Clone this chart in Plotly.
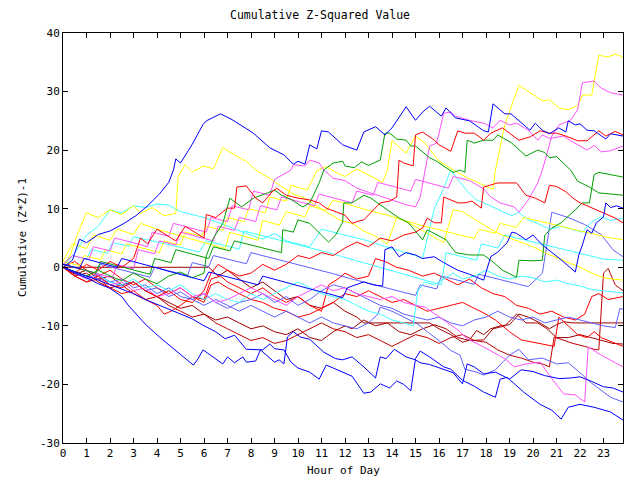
import plotly.graph_objects as go

# Each series: list of (hour, cumulative value) vertices
blue_top = [(0,0),(0.4,1.2),(0.7,4.8),(1.0,4.2),(1.5,5.6),(2.0,6.2),(2.6,7.5),(3.1,8.8),(3.6,10.5),(4.1,12.5),(4.5,14.5),(4.7,16.6),(4.8,18.5),(5.0,17.8),(5.5,21),(5.96,24.4),(6.1,25),(6.7,26.2),(7.2,25.2),(8.1,22.9),(8.8,20.4),(9.4,19.2),(9.8,17.6),(10.0,18.1),(10.3,17.6),(10.5,20.9),(10.8,20.2),(11.0,23.3),(11.3,23.1),(11.9,20.9),(12.5,20.0),(12.8,23.1),(13.3,24.0),(13.7,22.6),(14.0,23.8),(14.6,27.4),(15.0,25.1),(15.3,26.5),(15.6,27.5),(16.1,25.8),(16.3,27.2),(16.7,25.5),(17.3,25.0),(17.9,23.3),(18.1,23.1),(18.3,27.9),(18.8,26.2),(19.06,26.2),(19.87,23.4),(20.1,24.6),(20.4,23.4),(20.7,22.8),(21.1,23.8),(21.4,23.1),(21.5,25),(21.8,24.3),(22.0,24.5),(22.3,23.4),(22.6,23.3),(23.1,21.9),(23.3,22.8),(23.83,22.4)]
yellow_top = [(0,1),(0.7,0.3),(0.9,2),(1.6,1.3),(1.8,3),(2.5,2.3),(2.7,4),(3.4,3.3),(4.1,2.5),(4.3,4.5),(5,3.8),(5.2,6),(5.9,5.3),(6.1,7),(6.8,6.3),(7,8.5),(7.7,7.8),(7.9,10),(8.6,9.3),(8.8,12),(9.5,11.3),(9.7,14),(10.4,13.2),(10.8,16.5),(11.2,17.2),(11.7,16),(12,15.5),(12.5,16.8),(13,15.8),(13.6,14.5),(13.8,16.6),(14.0,21.6),(14.6,19.5),(15.0,22.4),(15.4,21.2),(16.0,18.1),(16.7,16.4),(17.2,15.3),(17.8,14.2),(18.3,13.3),(18.4,16.6),(18.8,24.3),(19.4,31.1),(20.4,28.4),(20.7,28.6),(21.1,27.2),(21.5,26.9),(21.9,27.6),(22.1,29.4),(22.5,29.4),(22.8,36.2),(23.2,35.9),(23.5,36.4),(23.83,35.9)]
yellow_a = [(0,0),(0.3,2),(0.6,5.5),(1.0,9.3),(1.5,8.5),(2.0,9.8),(2.5,9),(3.0,10.5),(3.3,9.2),(3.8,10.2),(4.3,8.8),(4.8,9.2),(4.9,15.5),(5.2,17.5),(5.5,16.3),(6.0,17.3),(6.4,16.8),(6.8,20.4),(7.3,19.2),(7.8,18.1),(8.2,16.6),(8.8,15.2),(9.3,13.8),(9.8,12.5),(10.3,11.8),(10.8,10.4),(11.3,9.2),(11.8,8),(12.3,7.5),(12.8,6.2),(13.3,5.3),(13.8,4),(14.2,8.5),(14.6,7.8),(15.2,6.5),(15.7,5.3),(16.2,4.2),(16.6,9.8),(17.0,9.5),(17.5,8.2),(18.0,7),(18.5,5.8),(19.0,5),(19.5,4.3),(20.0,3.5),(20.5,2.5),(21.0,1.7),(21.5,0.8),(22,0),(22.5,-1),(23,-1.8),(23.83,-2.2)]
yellow_b = [(0,1),(0.4,4),(1,3.2),(1.3,5.5),(2,4.6),(2.3,6.5),(3,5.6),(3.3,7.5),(4,6.5),(4.8,5.6),(5.5,4.8),(6.2,4),(6.9,3.2),(7.1,6),(7.8,5.2),(8.3,4.6),(8.5,8),(9.2,7.2),(9.5,9.5),(10.3,8.6),(10.5,10.5),(11.2,9.7),(11.5,11.5),(12.3,10.5),(13,9.7),(13.8,8.9),(14.5,8),(15.2,7.2),(16,6.4),(16.8,5.6),(17.5,4.9),(17.7,6.5),(18.4,5.8),(18.6,7.5),(19.3,6.8),(19.6,8.5),(20.4,7.8),(21.1,7.1),(21.8,6.4),(22.5,5.7),(23.2,5.1),(23.83,4.7)]
magenta_1 = [(0,0.5),(0.7,-0.3),(1.4,-1),(2.1,-1.8),(2.3,0.5),(3,-0.3),(3.2,3),(3.9,2.3),(4.1,4.5),(4.8,3.8),(5,6),(5.7,5.3),(6.4,4.5),(6.6,7),(7.3,6.3),(7.5,8.5),(8.2,7.8),(8.4,10.5),(9.1,9.8),(9.3,12),(10,11.3),(10.7,10.5),(10.9,12.5),(11.6,11.8),(12.3,11),(12.5,13),(13.2,12.3),(13.4,14.5),(14.1,13.8),(14.8,13),(15,15),(15.7,14.3),(16.4,13.5),(16.6,15.5),(17.3,14.8),(17.9,13.4),(18.2,12),(18.6,11),(19.2,10.3),(19.4,9.4),(19.8,11.5),(20.2,14.4),(20.4,16.6),(20.8,22.4),(21.1,24.3),(21.6,25.1),(21.9,26.9),(22.1,31.5),(22.6,31.8),(22.9,30.6),(23.3,29.8),(23.83,29.4)]
magenta_2 = [(0,0.5),(0.4,2),(1.1,1.3),(1.3,3.5),(2,2.8),(2.2,5),(2.9,4.3),(3.6,3.5),(3.8,6),(4.5,5.3),(4.7,7.5),(5.4,6.8),(6.1,6),(6.3,8.5),(7,7.8),(7.2,10.5),(7.9,9.8),(8.1,13),(8.8,12.3),(9,15),(9.7,16.6),(9.8,17.5),(10.3,17.3),(10.5,18.3),(10.9,17.8),(11.1,16.6),(11.5,15.2),(12,14.8),(12.5,13.5),(13,12.8),(13.5,12.2),(14,11.5),(14.5,10.8),(15.0,10.3),(15.2,12),(15.4,16.6),(15.6,20.7),(15.9,21.2),(16.2,26.3),(16.5,26.5),(16.7,25.8),(17.3,25.1),(17.9,24.6),(18.3,23.8),(18.6,25.1),(19.0,24.3),(19.3,24.6),(19.8,23.4),(20.2,21.7),(20.4,22.6),(20.7,22.0),(21.3,22.4),(21.6,21.6),(22.0,20.7),(22.3,20),(22.6,20.8),(22.9,19.7),(23.3,19.9),(23.83,20.7)]
magenta_3 = [(0,0),(0.5,-1),(1,-2),(1.5,-1.5),(2,-3),(2.5,-2.5),(3,-4),(3.5,-3.5),(4,-5),(4.5,-4.5),(5,-3.5),(5.5,-5),(6,-4.5),(6.5,-6),(7,-5.5),(7.5,-4.5),(8,-3.5),(8.5,-4.5),(9,-5.5),(9.5,-6.5),(10,-5),(10.5,-4),(11,-3),(11.5,-4),(12,-3.5),(12.5,-4.5),(13,-5),(13.5,-5.5),(14,-5),(14.5,-6),(15,-6.5),(15.4,-6.8),(16.2,-9),(16.8,-10.7),(17.2,-12.2),(17.9,-13.6),(18.8,-15.6),(19.2,-17),(19.7,-16.5),(20.3,-16.2),(20.8,-19),(21.3,-21.6),(21.8,-21.8),(22.2,-23),(22.35,-13.6),(22.9,-15),(23.83,-17)]
green_1 = [(0,0.5),(0.7,-0.3),(1.4,-1),(1.6,1),(2.3,0.3),(3,-0.5),(3.7,-1.2),(3.9,1.5),(4.6,0.8),(4.8,3),(5.5,2.3),(6.2,1.5),(6.4,3.5),(7.1,2.8),(7.3,4.5),(8,3.8),(8.7,3),(9.3,2.5),(9.35,6.4),(9.8,6),(10,8.1),(10.5,7.5),(11,5.5),(11.3,4.3),(11.6,5.5),(11.9,7.7),(11.95,11),(12.3,11),(12.8,12.3),(13.1,11.8),(13.7,10.1),(14.3,8.4),(14.7,7.6),(15.0,6.1),(15.3,4.7),(15.5,6.4),(15.9,5.5),(16.3,4.7),(16.7,2.5),(17.3,2.1),(17.9,2.1),(18.3,0.9),(18.7,-0.5),(19.3,-1.7),(19.4,1.2),(20.0,1.1),(20.4,1.2),(20.5,5.5),(20.8,6.7),(21.2,7.6),(21.8,9.8),(22.1,11),(22.4,11),(22.6,15.8),(22.8,16.2),(23.3,15.8),(23.83,15.4)]
green_2 = [(0,0),(0.5,-0.8),(1,-1.5),(1.5,-0.5),(2,-1.5),(2.5,-2.3),(3,-1),(3.5,-2),(4,-2.8),(4.5,-1.5),(5,-0.8),(5.5,-1.8),(6,-1),(6.1,2),(6.4,5),(6.8,7.5),(7.1,11.8),(7.6,10.3),(8.1,11.8),(8.7,12.7),(9.0,13.2),(9.3,12.3),(9.7,11.6),(10.2,10.3),(10.5,11),(10.9,14.4),(11.0,15.4),(11.1,16.6),(11.5,17.8),(11.9,18.1),(12.0,17.3),(12.4,17),(12.7,18),(13.0,17.4),(13.5,18.3),(13.7,22.9),(13.9,22.9),(14.2,21.9),(14.6,21.7),(14.8,20.7),(15.0,20.7),(15.2,20),(15.6,18.7),(15.9,18.1),(16.2,17.3),(16.6,16.2),(16.9,16.6),(17.1,16.2),(17.2,21.7),(17.5,21.2),(17.9,21.7),(18.3,21.7),(18.5,22.6),(19.1,21.2),(19.7,19),(20.2,20),(20.5,19.6),(20.7,18.7),(21.0,18.9),(21.6,16.6),(21.9,14.7),(22.4,13.7),(22.8,12.7),(23.83,12.3)]
red_1 = [(0,0),(0.5,-1),(1,0.5),(1.5,-0.5),(2,1),(2.5,0),(3,1.5),(3.3,5),(3.6,4),(4,6.5),(4.4,5.5),(4.8,4.5),(5.2,7),(5.6,6),(6.0,5),(6.1,9),(6.5,8.5),(7.0,10.1),(7.3,10.1),(7.4,13.7),(7.8,13.9),(8.2,11.8),(8.5,11),(8.9,12.9),(9.1,13.5),(9.5,12.3),(10.0,11.8),(10.5,11.5),(10.9,11),(11.2,10.1),(11.6,9.5),(12.0,8.9),(12.3,7.5),(12.5,7.8),(12.8,8.1),(13.0,8.9),(13.5,11),(13.9,11.3),(14.2,12),(14.3,18.3),(14.5,17.8),(14.9,17.3),(15.0,22.6),(15.3,23.1),(15.5,22.5),(15.8,21.7),(16.0,20.9),(16.5,19.8),(16.8,23.3),(17.1,22.9),(17.5,22.9),(17.9,21.7),(18.2,22.9),(18.7,23.8),(19.0,22.9),(19.4,21.7),(19.9,22.3),(20.3,23.3),(20.7,22.9),(21.0,22.9),(21.4,22.4),(21.9,21.6),(22.3,21.6),(22.8,23.3),(23.1,22.4),(23.5,23.2),(23.83,22.6)]
red_2 = [(0,0),(0.5,-1.5),(1,-2.5),(1.5,-1.5),(2,-3),(2.5,-3.5),(3,-2.5),(3.5,-4),(4,-5),(4.5,-4),(5,-5.5),(5.5,-6),(6,-4),(6.3,-1),(6.6,0.5),(7,-0.5),(7.5,-1.5),(8,-1),(8.5,0.5),(9,-0.5),(9.5,0.5),(10,2),(10.5,1.5),(11,2.5),(11.5,2),(12,3.3),(12.5,4.3),(13,3.5),(13.5,5),(14,4.5),(14.5,5.5),(15,6),(15.3,6.7),(15.5,8.4),(15.8,7.6),(16.1,7.6),(16.2,12),(16.5,11.5),(16.8,11),(17.1,11),(17.4,11.3),(17.8,10.1),(17.9,13.7),(18.5,14.4),(19.3,14.4),(19.7,12.3),(20.1,11.8),(20.5,11),(20.7,14),(21.0,13.8),(21.4,12.9),(21.7,11.8),(22.0,11),(22.3,10.5),(22.7,9.8),(23.2,8.9),(23.5,8.4),(23.83,7.6)]
red_3 = [(0,0),(0.5,-1.5),(1,-2.5),(1.5,-2),(2,-3.5),(2.5,-4.5),(3,-4),(3.5,-5.5),(4,-6.5),(4.3,-8),(4.6,-7.5),(5,-6.5),(5.5,-5),(6,-6),(6.3,-3),(6.6,-2.5),(7,-3.5),(7.5,-4.5),(8,-5.5),(8.5,-6),(9,-7),(9.5,-7.5),(10,-8.5),(10.5,-8),(11,-7),(11.5,-6),(12,-4.5),(12.5,-5),(13,-4),(13.5,-5),(14,-6),(14.5,-5.5),(15,-6.5),(15.5,-7.5),(16,-7),(16.5,-6.5),(17,-6),(17.5,-7),(18,-8),(18.4,-9),(19,-11),(19.5,-12.4),(20,-12.8),(20.5,-13.3),(20.9,-13.5),(21.1,-8.5),(21.5,-10),(21.9,-11.5),(22.3,-12),(22.6,-11),(22.9,-12),(23.2,-12.5),(23.5,-13),(23.83,-13.5)]
red_4 = [(0,0),(0.5,1),(1,-0.5),(1.5,-1.5),(2,-0.5),(2.5,-2),(3,-3),(3.5,-2),(4,-3.5),(4.5,-4.5),(5,-3.5),(5.5,-5),(6,-5.5),(6.3,-2),(6.7,-1.5),(7,-2.5),(7.5,-3.5),(8,-4.5),(8.5,-3.5),(9,-5),(9.5,-6),(10,-5),(10.5,-6.5),(11,-7.5),(11.3,-3),(11.7,-2),(12,-1),(12.5,-2),(13,-1.5),(13.3,1.5),(13.7,1),(14.2,0),(14.7,-0.5),(15.3,-1.5),(15.8,-1),(16.3,-2),(16.8,-3),(17.3,-2),(17.8,-3.5),(18.3,-4.5),(18.8,-5),(19.3,-6.5),(19.8,-7),(20.3,-8),(20.8,-7.5),(21.3,-8.5),(21.8,-9),(22.2,-8),(22.5,-5),(22.8,-4.5),(23.2,-5.5),(23.83,-5)]
darkred_1 = [(0,0),(6.2,0),(6.6,-1.5),(7,-0.5),(7.5,-2),(8,-3.5),(8.5,-2.5),(9,-4),(9.5,-5.5),(10,-5),(10.5,-6.5),(11,-7),(11.5,-6),(12,-7.5),(12.5,-8.5),(12.8,-9.5),(15.6,-9.5),(16,-10.5),(16.5,-11.5),(17,-12.8),(17.3,-12.4),(17.6,-10.8),(17.9,-11.5),(18.2,-10.5),(18.6,-10),(19.0,-9.8),(19.4,-8),(19.8,-8.5),(20.3,-9.5),(20.7,-10.5),(21.0,-9.8),(21.3,-9.3),(21.7,-9.5),(22.0,-9.5),(23.83,-9.5)]
darkred_2 = [(0,0),(0.5,-1.2),(1,-0.5),(1.5,-2),(2,-1.5),(2.5,-3),(3,-2.5),(3.5,-4),(4,-5),(4.5,-6),(5,-7),(5.5,-6.5),(6,-8),(6.5,-9),(7,-8.5),(7.5,-9.5),(8,-10.5),(8.5,-10),(9,-11),(9.5,-11.5),(10,-10.5),(10.5,-12),(11,-12.5),(11.5,-11),(12,-10),(12.3,-10.5),(12.8,-9),(13.3,-10),(13.8,-9.5),(14.3,-11),(14.8,-11.5),(15.3,-10.5),(15.8,-9.8),(16.3,-10.5),(16.8,-12),(17.3,-12.5),(17.9,-12.4),(18.3,-10.5),(18.8,-10),(19.3,-8),(19.7,-9.5),(20.2,-9.5),(20.6,-10.5),(21,-12),(21.5,-12),(22,-11.5),(22.5,-12),(23,-12.5),(23.4,-13),(23.83,-13.1)]
darkred_3 = [(0,0),(0.5,-1.5),(1,-1),(1.5,-2.5),(2,-3.5),(2.5,-3),(3,-4.5),(3.5,-5.5),(4,-5),(4.5,-6.5),(5,-7.5),(5.5,-8.5),(6,-8),(6.5,-9.5),(7,-10.5),(7.5,-11.5),(8,-12.5),(8.5,-12),(9,-13),(9.5,-12.5),(10,-11.5),(10.5,-10.5),(11,-9.5),(11.5,-10.5),(12,-11),(12.5,-12),(13,-11.5),(13.5,-12.5),(14,-13.5),(14.5,-12.5),(15,-11.5),(15.5,-12),(16,-13),(16.5,-12),(17,-11.5),(17.5,-12.5),(18,-12.8),(18.5,-14.1),(19,-15),(19.5,-15.5),(20,-16.2),(20.4,-16.5),(20.7,-17),(20.9,-11.9),(21.3,-12.5),(21.7,-13),(22.2,-13.5),(22.6,-14),(22.8,-14.1),(23.0,-1),(23.2,-0.2),(23.5,-3),(23.83,-4)]
cyan_1 = [(0,0),(0.5,2.5),(1,5.5),(1.5,7),(2,9.8),(2.5,9.3),(3,10.5),(3.5,10.2),(4,10.8),(4.5,10.6),(5,9.5),(5.5,9),(6,8.5),(6.5,7.8),(7,7),(7.5,6.3),(8,5.5),(8.5,4.8),(9,5.8),(9.5,4.5),(10,4),(10.5,3.5),(11,6.5),(11.5,6),(12,5.5),(12.5,5),(13,4.5),(13.5,3.8),(14,3.2),(14.5,2.5),(15,2),(15.3,1.5),(15.5,5),(15.8,10),(16.2,13.5),(16.5,16.6),(16.8,15),(17.2,13),(17.6,11.5),(17.9,11),(18.3,10.3),(18.7,9.5),(19.1,8.8),(19.4,9.4),(19.8,8.1),(20.2,7.5),(20.7,6.5),(21.2,7),(21.6,6.5),(22.1,6),(22.5,7.8),(22.9,8.6),(23.3,8),(23.83,8.4)]
cyan_2 = [(0,0.5),(0.4,2),(1,1.4),(1.2,3),(1.9,2.4),(2.1,4.2),(2.8,3.6),(3.0,5.2),(3.7,4.6),(4.4,4),(5.1,3.3),(5.8,2.6),(6.1,4.5),(6.8,3.8),(7.5,3.1),(7.7,6.2),(8.4,5.5),(9.1,4.8),(9.8,4),(10.5,3.3),(11.2,2.6),(11.9,1.8),(12.6,1),(13.3,0.2),(14,-0.6),(14.7,-1.4),(15.4,-2.2),(16.1,-3),(16.3,2.5),(17,1.8),(17.6,1.2),(17.8,4),(18.5,3.3),(18.8,5.5),(19.5,4.8),(20.2,4.1),(20.9,3.4),(21.6,2.7),(22.3,2),(23,1.4),(23.83,1.2)]
cyan_3 = [(0,0),(0.5,-1),(1,-2),(1.5,-1.5),(2,-2.5),(2.5,-3),(3,-2),(3.5,-3.5),(4,-3),(4.5,-4),(5,-3),(5.5,-4.5),(6,-5.5),(6.5,-4.5),(7,-5.5),(7.5,-6),(8,-4.5),(8.5,-5.5),(9,-4.5),(9.5,-3.5),(10,-2.5),(10.5,-3.5),(11,-4.5),(11.5,-5),(12,-5.5),(12.5,-6.5),(13,-7.5),(13.5,-8),(14,-9),(14.5,-9.5),(14.9,-10),(15.1,-4),(15.4,-2.5),(15.8,-3),(16.2,-2),(16.6,-1),(17,-2),(17.5,-1.5),(18,-0.5),(18.5,-1.5),(19,-2),(19.5,-1.5),(20,-1.8),(20.5,-2.5),(21,-2.2),(21.5,-2.8),(22,-3.2),(22.5,-3.8),(23,-4),(23.83,-4.4)]
slate_1 = [(0,0.5),(0.7,-0.3),(1.4,-1),(1.6,0.5),(2.3,-0.2),(3,-1),(3.7,-1.7),(3.9,0),(4.6,-0.7),(5.3,-1.4),(5.5,0.8),(6.2,0.1),(6.4,2),(7.1,1.3),(7.8,0.6),(8,2.5),(8.7,1.8),(9.4,1.1),(10.1,0.4),(10.8,-0.4),(11.5,-1.1),(12.2,-1.9),(12.9,-2.6),(13.6,-3.4),(14.3,-4.1),(15,-4.8),(15.2,-3),(15.9,-3.7),(16.1,-1.5),(16.8,-2.2),(17.5,-2.9),(17.7,-1.2),(18.4,-1.9),(19.1,-2.6),(19.8,-3.3),(20.4,-1),(20.6,4.2),(20.8,9.4),(21.5,8.5),(22.2,7.3),(22.9,5.6),(23.4,3),(23.83,1.8)]
slate_2 = [(0,0),(1,-1.5),(2,-2.5),(2.5,-2),(3,-3.5),(3.5,-3),(4,-4.5),(4.5,-3.5),(5,-5),(5.5,-5.5),(6,-4.5),(6.5,-6),(7,-7),(7.5,-6),(8,-5.5),(8.5,-4.5),(9,-6),(9.5,-5),(10,-6.5),(10.5,-5.5),(11,-4),(11.5,-3),(12,-3.5),(12.5,-4.5),(13,-5.5),(13.5,-6.5),(14,-7),(14.5,-8),(15,-8.5),(15.5,-9),(16,-8.5),(16.5,-9.5),(17,-10),(17.5,-9),(18,-8.5),(18.5,-7.5),(19,-8.5),(19.5,-9),(20,-8.5),(20.5,-9.5),(21,-9),(21.5,-8.5),(22,-9),(22.5,-9.5),(23,-10),(23.5,-10.3),(23.7,-7),(23.83,-7.2)]
slate_3 = [(0,0),(0.5,-1),(1,-1.8),(1.5,-1.2),(2,-2.5),(2.5,-3.2),(3,-2.5),(3.5,-4),(4,-3.5),(4.5,-5),(5,-4.2),(5.5,-5.5),(6,-6.5),(6.5,-5.5),(7,-6.5),(7.5,-7.5),(8,-6.5),(8.5,-7.5),(9,-8.5),(9.5,-7.5),(10,-8.5),(10.5,-9.5),(11,-8.5),(11.5,-9.5),(12,-10),(12.5,-10.5),(13,-9.5),(13.4,-8),(13.5,-6.8),(14,-7.5),(14.5,-8.5),(15.1,-9.7),(15.5,-11),(16,-12.5),(16.5,-14.2),(16.9,-15),(17.1,-17.4),(17.6,-17.9),(17.9,-18.4),(18.4,-17.5),(19,-15),(19.4,-14),(19.8,-15.8),(20.4,-15.5),(21,-16.5),(21.5,-16.3),(22,-18),(22.5,-19.8),(23.3,-22.2),(23.83,-23)]
blue_2 = [(0,0.5),(0.7,-0.2),(0.9,1.5),(1.6,0.8),(2.3,0),(2.5,1.5),(3.2,0.8),(3.9,0),(4.6,-0.8),(5.3,-1.5),(6,-2.3),(6.2,-0.8),(6.9,-1.5),(7.6,-2.3),(8.3,-3),(8.5,-1.5),(9.2,-2.3),(9.9,-3),(10.6,-3.8),(11.3,-4.5),(11.9,-5.2),(12.1,-3.5),(12.8,-2.5),(13.2,-3),(13.6,-3.2),(13.7,3),(14.0,3.5),(14.3,1.8),(14.6,2.5),(15.0,2.1),(15.3,1.5),(15.8,1.8),(16.2,0.8),(16.8,-0.5),(17.3,-1.2),(17.9,-2.2),(18.1,0.5),(18.2,1.8),(18.5,2.6),(18.9,4.2),(19.1,6),(19.3,5.8),(19.7,4.7),(20.0,5.5),(20.4,3.8),(21.1,1.6),(21.8,-0.8),(21.95,2.1),(22.1,3.8),(22.3,6.4),(22.5,5.8),(22.7,7.6),(23.0,8.6),(23.1,11),(23.3,10.2),(23.55,10.5),(23.83,10.1)]
blue_low_a = [(0,0),(0.5,-1),(1,-1.8),(1.5,-2.8),(2,-3.6),(2.5,-5),(2.8,-6.6),(3.5,-9.7),(4.1,-11.9),(4.6,-13.6),(5.0,-14.8),(5.55,-16.7),(5.75,-15.6),(5.96,-14.1),(6.8,-16.5),(7.0,-15.3),(7.3,-16.3),(7.65,-15.3),(7.8,-16.2),(8.2,-16.0),(8.4,-14.1),(9.0,-16.2),(9.2,-15.8),(9.4,-16.5),(9.55,-11.9),(9.8,-11.0),(10.1,-11.9),(10.5,-12.3),(11.1,-14.5),(11.6,-15.6),(11.9,-15.8),(12.3,-15.3),(12.8,-17),(13.3,-18.9),(13.5,-15.3),(13.75,-15.6),(14.1,-14.0),(14.6,-15.3),(15.0,-15.8),(15.2,-16.3),(15.6,-16.6),(16.2,-17.5),(16.6,-18),(17.0,-19.9),(17.2,-16.5),(17.5,-17),(17.9,-18.2),(18.4,-17.9),(19.0,-19.1),(19.5,-17.5),(20.0,-17.8),(20.5,-18.5),(21.1,-19),(21.6,-18.9),(22.0,-18.7),(22.5,-19.5),(23.0,-20.4),(23.4,-20.6),(23.83,-21.3)]
blue_low_b = [(0,0),(0.5,-0.8),(1,-1.5),(1.5,-2.2),(2,-3),(2.5,-3.8),(3,-4.5),(3.5,-5.5),(4,-6.3),(4.5,-7.2),(5,-8),(5.5,-8.8),(5.96,-9.9),(6.5,-11),(6.9,-12.2),(7.3,-11.6),(7.8,-14),(8.5,-14.1),(8.8,-13.1),(9.0,-13.9),(9.4,-14.1),(9.7,-16.2),(10.0,-17.2),(10.5,-17.9),(10.9,-19.1),(11.2,-16.7),(11.5,-17.2),(11.9,-17.9),(12.3,-18.6),(12.8,-21.5),(13.1,-21.3),(13.5,-19.9),(13.9,-20.6),(14.2,-19.4),(14.5,-20),(14.8,-21.1),(15.0,-15.6),(15.2,-14.3),(15.6,-15.3),(16.2,-17),(16.5,-17.4),(17.0,-19.3),(17.5,-20.3),(17.9,-21.3),(18.4,-22.2),(18.6,-19.1),(18.9,-18.8),(19.6,-21.3),(20.3,-23.4),(20.8,-24.4),(21.2,-25.9),(21.5,-23.9),(22.0,-23.4),(22.6,-23.9),(23.3,-24.7),(23.83,-26.1)]

series = [
    (darkred_1, "#a00000"), (darkred_2, "#a00000"), (darkred_3, "#c00000"),
    (red_3, "#ff0000"), (red_4, "#ff0000"),
    (slate_1, "#6060ff"), (slate_2, "#6060ff"), (slate_3, "#6060ff"),
    (cyan_1, "#40ffff"), (cyan_2, "#40ffff"), (cyan_3, "#40ffff"),
    (yellow_a, "#ffff00"), (yellow_b, "#ffff00"), (yellow_top, "#ffff00"),
    (magenta_3, "#ff50ff"), (magenta_2, "#ff50ff"), (magenta_1, "#ff50ff"),
    (green_1, "#00a000"), (green_2, "#00a000"),
    (red_2, "#ff0000"), (red_1, "#ff0000"),
    (blue_low_a, "#0000ff"), (blue_low_b, "#0000ff"), (blue_2, "#0000ff"), (blue_top, "#0000ff"),
]

x_ticks = list(range(0, 24))
y_ticks = [-30, -20, -10, 0, 10, 20, 30, 40]

fig = go.Figure()
for pts, col in series:
    fig.add_trace(go.Scatter(x=[p[0] for p in pts], y=[p[1] for p in pts], mode="lines",
                             line=dict(color=col, width=1), showlegend=False, hoverinfo="skip"))

font = dict(family="DejaVu Sans Mono", size=11, color="black")
axis_common = dict(showline=True, linecolor="black", linewidth=1, mirror="ticks",
                   ticks="inside", ticklen=5, tickcolor="black", tickwidth=1,
                   showgrid=False, zeroline=False, tickfont=font, automargin=False)
fig.update_layout(
    width=640, height=480, paper_bgcolor="white", plot_bgcolor="white",
    margin=dict(l=63, r=17, t=33, b=37),
    title=dict(text="Cumulative Z-Squared Value", x=0.5, xanchor="center", y=0.968, yanchor="middle",
               font=dict(family="DejaVu Sans Mono", size=11.5, color="black")),
    font=font,
    annotations=[
        dict(text="Hour of Day", xref="paper", yref="paper", x=0.5, y=-0.066,
             xanchor="center", yanchor="middle", showarrow=False, font=font),
        dict(text="Cumulative (Z*Z)-1", xref="paper", yref="paper", x=-0.073, y=0.5,
             xanchor="center", yanchor="middle", textangle=-90, showarrow=False, font=font),
    ],
)
fig.update_xaxes(range=[0, 23.83], tickvals=x_ticks, ticktext=[str(t) for t in x_ticks], **axis_common)
fig.update_yaxes(range=[-30, 40], tickvals=y_ticks, ticktext=[str(t) for t in y_ticks], **axis_common)
fig.write_html("out.html")
